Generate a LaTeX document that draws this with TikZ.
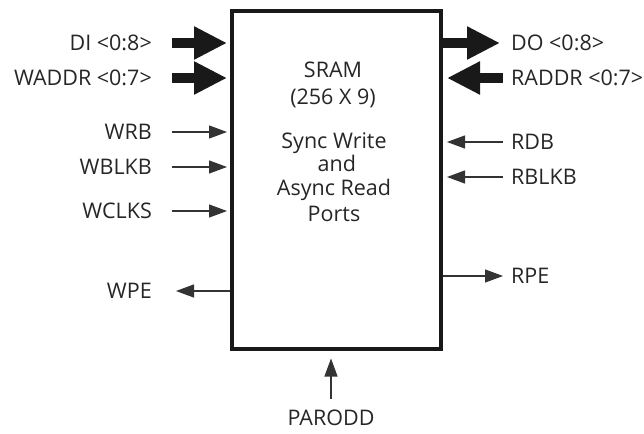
\documentclass[tikz,border=0pt]{standalone}
\usepackage{fontspec}
\setmainfont{Open Sans}
\usetikzlibrary{arrows.meta,positioning}

\begin{document}
\begin{tikzpicture}[x=1pt, y=-1pt,
  every node/.style={font=\fontsize{21.5}{23.5}\selectfont, text=black!85},
  box/.style={rectangle, draw=black!90, line width=4pt, minimum width=209pt, minimum height=337pt, inner sep=0pt},
  lbl/.style={inner sep=0pt},
  bus/.style={-{Triangle[length=33pt, width=31pt]}, line width=10pt, black!90},
  sig/.style={-{Triangle[length=18pt, width=13pt]}, line width=1.2pt, black!80}]
\useasboundingbox (0,0) rectangle (644,433);
\node[box] (sram) at (336.5,180) {};
\node[align=center] (title) at (333,85) {SRAM\\[4pt](256 X 9)};
\node[align=center] (ports) at (334,177) {Sync Write\\\ and\\Async Read\\[3pt]Ports};
% write side
\node[lbl, anchor=east] (di) at (152,43) {DI <0:8>};
\node[lbl, anchor=east] (waddr) at (152,78) {WADDR <0:7>};
\node[lbl, anchor=east] (wrb) at (152,132) {WRB};
\node[lbl, anchor=east] (wblkb) at (152,167) {WBLKB};
\node[lbl, anchor=east] (wclks) at (152,211) {WCLKS};
\node[lbl, anchor=east] (wpe) at (152,291) {WPE};
% read side
\node[lbl, anchor=west] (do) at (511,43) {DO <0:8>};
\node[lbl, anchor=west] (raddr) at (511,78) {RADDR <0:7>};
\node[lbl, anchor=west] (rdb) at (511,142) {RDB};
\node[lbl, anchor=west] (rblkb) at (511,177) {RBLKB};
\node[lbl, anchor=west] (rpe) at (511,276) {RPE};
\node[lbl] (parodd) at (331,418) {PARODD};
\coordinate[above=11pt of parodd.north] (pin);
\draw[bus, shorten >=3pt] ([xshift=20pt]di.east) -- (sram.west |- di.east);
\draw[bus, shorten >=3pt] ([xshift=20pt]waddr.east) -- (sram.west |- waddr.east);
\draw[sig, shorten >=3pt] ([xshift=20pt]wrb.east) -- (sram.west |- wrb.east);
\draw[sig, shorten >=3pt] ([xshift=20pt]wblkb.east) -- (sram.west |- wblkb.east);
\draw[sig, shorten >=3pt] ([xshift=20pt]wclks.east) -- (sram.west |- wclks.east);
\draw[sig, shorten >=1pt] (sram.west |- wpe.east) -- ([xshift=23pt]wpe.east);
\draw[bus] (sram.east |- do.west) -- ([xshift=-11pt]do.west);
\draw[bus, shorten >=4pt] ([xshift=-8pt]raddr.west) -- (sram.east |- raddr.west);
\draw[sig, shorten >=4pt] ([xshift=-8pt]rdb.west) -- (sram.east |- rdb.west);
\draw[sig, shorten >=4pt] ([xshift=-8pt]rblkb.west) -- (sram.east |- rblkb.west);
\draw[sig] (sram.east |- rpe.west) -- ([xshift=-8pt]rpe.west);
\draw[sig, shorten >=8pt] (pin) -- (pin |- sram.south);
\end{tikzpicture}
\end{document}
